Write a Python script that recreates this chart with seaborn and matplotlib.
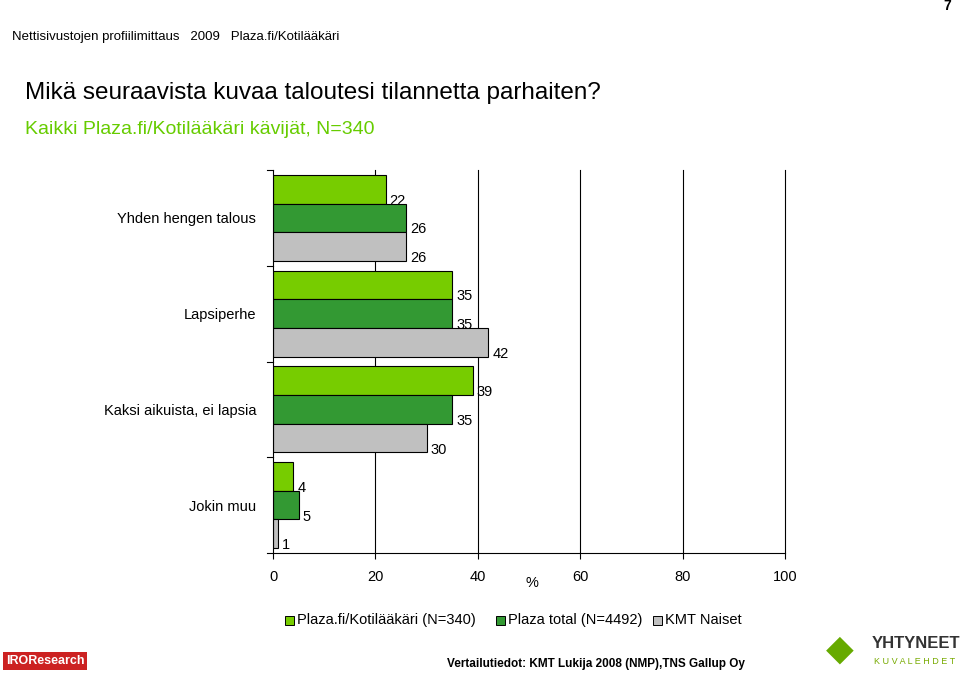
import matplotlib
matplotlib.use("Agg")
import matplotlib.pyplot as plt
import seaborn as sns
import pandas as pd

categories = ["Yhden hengen talous", "Lapsiperhe", "Kaksi aikuista, ei lapsia", "Jokin muu"]
series = ["Plaza.fi/Kotilääkäri (N=340)", "Plaza total (N=4492)", "KMT Naiset"]
plaza_koti = [22, 35, 39, 4]
plaza_total = [26, 35, 35, 5]
kmt_naiset = [26, 42, 30, 1]
colors = ["#77CC00", "#339933", "#C0C0C0"]
xticks = [0, 20, 40, 60, 80, 100]

rows = []
for vals, s in zip([plaza_koti, plaza_total, kmt_naiset], series):
    for c, v in zip(categories, vals):
        rows.append({"cat": c, "series": s, "value": v})
df = pd.DataFrame(rows)

fig = plt.figure(figsize=(9.6, 6.84), dpi=100)
ax = fig.add_axes([273/960, 1-553/684, 512/960, 383/684])
sns.barplot(data=df, y="cat", x="value", hue="series", palette=colors, saturation=1,
            order=categories, hue_order=series, orient="h", ax=ax,
            edgecolor="black", linewidth=0.8, width=0.9, legend=False)
ax.set_xlim(0, 100)
ax.set_xticks(xticks)
ax.set_xticklabels([str(t) for t in xticks], fontsize=10.5, fontname="Liberation Sans")
ax.set_ylabel("")
ax.set_xlabel("")
ax.set_yticks(range(len(categories)))
ax.set_yticklabels(categories, fontsize=10.5, fontname="Liberation Sans")
ax.tick_params(axis="y", length=0, pad=12)
ax.tick_params(axis="x", length=4, pad=8)
for x in [20, 40, 60, 80, 100]:
    ax.axvline(x, color="black", lw=0.8, zorder=0, clip_on=False)
for y in [-0.5, 0.5, 1.5, 2.5, 3.5]:
    ax.plot([-1.2, 0], [y, y], color="black", lw=0.8, clip_on=False)
ax.set_ylim(3.5, -0.5)
for sp in ["top", "right"]:
    ax.spines[sp].set_visible(False)
for sp in ["left", "bottom"]:
    ax.spines[sp].set_linewidth(0.8)
for cont in ax.containers:
    for bar in cont:
        w = bar.get_width()
        ax.text(w + 0.8, bar.get_y() + bar.get_height()/2 + 0.12, f"{w:.0f}",
                fontsize=10.5, fontname="Liberation Sans", va="center", ha="left")
ax.text(50.5, -0.09, "%", transform=ax.get_xaxis_transform(), fontsize=10.5,
        fontname="Liberation Sans", ha="center")

fig.text(12/960, 1-37/684, "Nettisivustojen profiilimittaus   2009   Plaza.fi/Kotilääkäri",
         fontsize=9.5, fontname="Liberation Sans", va="center")
fig.text(943/960, 1-6/684, "7", fontsize=10, fontweight="bold", fontname="Liberation Sans", va="center")
fig.text(25/960, 1-93/684, "Mikä seuraavista kuvaa taloutesi tilannetta parhaiten?",
         fontsize=17.5, fontname="Liberation Sans", va="center")
fig.text(25/960, 1-130/684, "Kaikki Plaza.fi/Kotilääkäri kävijät, N=340",
         fontsize=14, color="#66CC00", fontname="Liberation Sans", va="center")

# legend
lpos = [285, 496, 653]
for lx, lbl, col in zip(lpos, series, colors):
    fig.patches.append(plt.Rectangle((lx/960, 1-625/684), 9/960, 9/684, facecolor=col,
                                     edgecolor="black", lw=0.7, transform=fig.transFigure))
    fig.text((lx+12)/960, 1-620/684, lbl, fontsize=10.5, fontname="Liberation Sans", va="center")

fig.text(447/960, 1-664/684, "Vertailutiedot: KMT Lukija 2008 (NMP),TNS Gallup Oy",
         fontsize=8.5, fontweight="bold", fontname="Liberation Sans", va="center")
fig.text(6/960, 1-661/684, "IROResearch", fontsize=9, fontweight="bold", color="white",
         va="center", fontname="Liberation Sans",
         bbox=dict(facecolor="#CC2222", edgecolor="none", pad=2))
fig.text(872/960, 1-643/684, "YHTYNEET", fontsize=12, fontweight="bold", color="#333333",
         va="center", fontname="Liberation Sans")
fig.text(874/960, 1-662/684, "K U V A L E H D E T", fontsize=6.5, color="#77AA00",
         va="center", fontname="Liberation Sans")
fig.text(826/960, 1-650/684, "◆", fontsize=26, color="#66AA00", va="center")
fig.savefig("out.png", dpi=100)
